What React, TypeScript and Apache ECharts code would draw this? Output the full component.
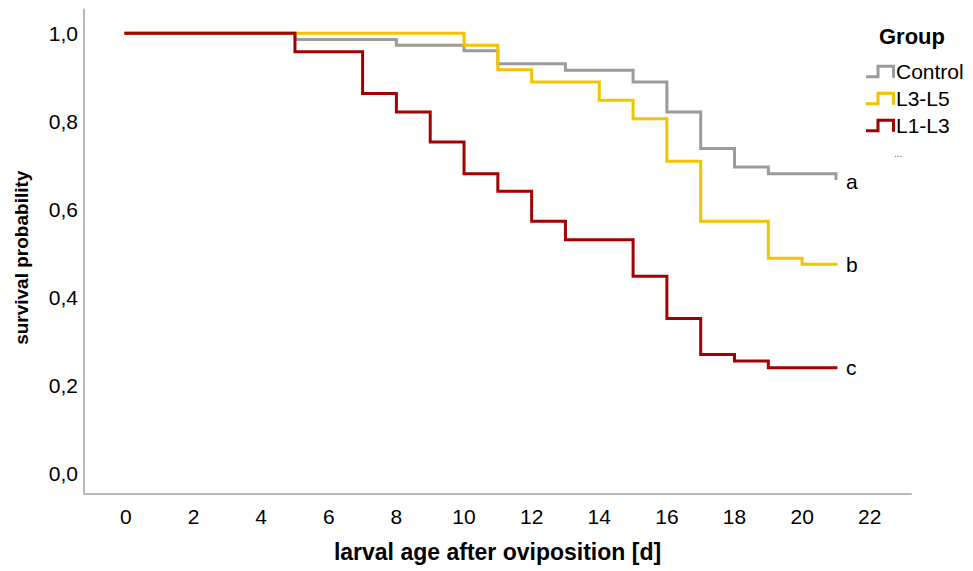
import React, { useEffect, useRef } from "react";
import * as echarts from "echarts";

// ---- Data ----
const groups = ["Control", "L3-L5", "L1-L3"];
const groupLetters = ["a", "b", "c"];

const controlDays = [0, 5, 8, 10, 11, 13, 15, 16, 17, 18, 19, 21, 21];
const controlSurvival = [1.0, 0.986, 0.973, 0.96, 0.931, 0.916, 0.889, 0.821, 0.738, 0.696, 0.681, 0.681, 0.67];

const l3l5Days = [0, 10, 11, 12, 14, 15, 16, 17, 19, 20, 21];
const l3l5Survival = [1.0, 0.973, 0.917, 0.889, 0.848, 0.806, 0.709, 0.573, 0.489, 0.475, 0.475];

const l1l3Days = [0, 5, 7, 8, 9, 10, 11, 12, 13, 15, 16, 17, 18, 19, 21];
const l1l3Survival = [1.0, 0.958, 0.863, 0.821, 0.753, 0.681, 0.641, 0.573, 0.531, 0.448, 0.352, 0.27, 0.255, 0.24, 0.24];

const xTicks = [0, 2, 4, 6, 8, 10, 12, 14, 16, 18, 20, 22];
const yTicks = [0, 0.2, 0.4, 0.6, 0.8, 1.0];

const colors = ["#9b9b9b", "#f3c300", "#a50000"];

const FONT = "'Liberation Sans', Arial, Helvetica, sans-serif";
const STEP_ICON = "path://M0,10.5 H10.5 V0 H29 V13 H26 V3 H13.5 V13.5 H0 Z";

function pairs(xs: number[], ys: number[]) {
  return xs.map((x, i) => [x, ys[i]]);
}

export default function App() {
  const ref = useRef<HTMLDivElement>(null);

  useEffect(() => {
    if (!ref.current) return;
    const chart = echarts.init(ref.current, undefined, { renderer: "svg" });
    const seriesData = [
      pairs(controlDays, controlSurvival),
      pairs(l3l5Days, l3l5Survival),
      pairs(l1l3Days, l1l3Survival),
    ];
    chart.setOption({
      animation: false,
      backgroundColor: "#ffffff",
      textStyle: { fontFamily: FONT },
      grid: { left: 84, right: 62, top: 9.5, bottom: 77 },
      xAxis: {
        type: "value",
        min: -1.24,
        max: 23.22,
        name: "larval age after oviposition [d]",
        nameLocation: "middle",
        nameGap: 46,
        nameTextStyle: { fontFamily: FONT, fontWeight: "bold", fontSize: 23, color: "#000" },
        axisLine: { show: true, onZero: false, lineStyle: { color: "#b8b8b8", width: 2 } },
        axisTick: { show: false },
        splitLine: { show: false },
        axisLabel: {
          customValues: xTicks,
          margin: 12,
          fontSize: 21,
          color: "#000",
          fontFamily: FONT,
        },
      },
      yAxis: {
        type: "value",
        min: -0.047,
        max: 1.054,
        name: "survival probability",
        nameLocation: "middle",
        nameRotate: 90,
        nameGap: 53,
        nameTextStyle: {
          fontFamily: FONT,
          fontWeight: "bold",
          fontSize: 19,
          color: "#000",
          padding: [0, 12, 0, 0],
        },
        axisLine: { show: true, onZero: false, lineStyle: { color: "#b8b8b8", width: 2 } },
        axisTick: { show: false },
        splitLine: { show: false },
        axisLabel: {
          customValues: yTicks,
          margin: 6,
          fontSize: 21,
          color: "#000",
          fontFamily: FONT,
          padding: [8, 0, 0, 0],
          formatter: (v: number) => v.toFixed(1).replace(".", ","),
        },
      },
      legend: {
        orient: "vertical",
        left: 861,
        top: 56,
        itemWidth: 29,
        itemHeight: 14,
        itemGap: 6,
        textStyle: { fontFamily: FONT, fontSize: 21, color: "#000", padding: [0, 0, 0, -4] },
        data: groups.map((g) => ({ name: g, icon: STEP_ICON })),
      },
      graphic: [
        {
          type: "text",
          left: 879,
          top: 25,
          style: { text: "Group", fontFamily: FONT, fontWeight: "bold", fontSize: 22, fill: "#000" },
        },
        {
          type: "text",
          left: 894,
          top: 148,
          style: { text: "...", fontFamily: FONT, fontSize: 10, fill: "#555" },
        },
      ],
      series: groups.map((g, i) => ({
        name: g,
        type: "line",
        step: "end",
        data: seriesData[i],
        showSymbol: false,
        symbol: "none",
        color: colors[i],
        itemStyle: { color: colors[i] },
        lineStyle: { color: colors[i], width: 3, cap: "square", join: "miter" },
        endLabel: {
          show: true,
          formatter: () => groupLetters[i],
          distance: 10,
          fontFamily: FONT,
          fontSize: 21,
          color: "#000",
          offset: i === 0 ? [0, 3] : [0, 0],
        },
        z: i + 2,
      })),
    });
    return () => chart.dispose();
  }, []);

  return (
    <div
      ref={ref}
      style={{ position: "fixed", left: 0, top: 0, width: 973, height: 571, background: "#fff" }}
    />
  );
}
